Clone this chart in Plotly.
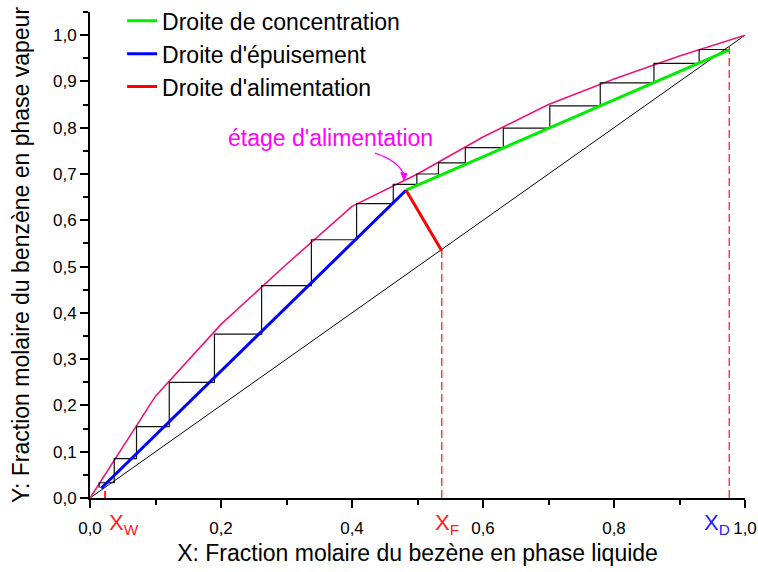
import plotly.graph_objects as go

# ---------------- data ----------------
# equilibrium curve (benzene-toluene)
eq_x = [0.0, 0.1, 0.2, 0.3, 0.4, 0.5, 0.6, 0.7, 0.8, 0.9, 1.0]
eq_y = [0.0, 0.22, 0.375, 0.505, 0.63, 0.70, 0.78, 0.85, 0.905, 0.955, 1.0]

# diagonal y = x
diag_x = [0.0, 1.0]
diag_y = [0.0, 1.0]

# characteristic compositions
XW = 0.023
XF = 0.537
XD = 0.976

# operating lines
conc_x = [0.4825, 0.976]          # rectifying line (green)
conc_y = [0.665, 0.968]
epuis_x = [0.017, 0.4825]         # stripping line (blue)
epuis_y = [0.021, 0.665]
alim_x = [0.4825, 0.537]          # feed line (red)
alim_y = [0.665, 0.534]

# McCabe-Thiele staircase corners
stair_x = [0.975, 0.930, 0.930, 0.861, 0.861, 0.779, 0.779, 0.702, 0.702, 0.631,
           0.631, 0.573, 0.573, 0.532, 0.532, 0.499, 0.499, 0.463, 0.463, 0.407,
           0.407, 0.338, 0.338, 0.262, 0.262, 0.190, 0.190, 0.121, 0.121, 0.071,
           0.071, 0.037, 0.037, 0.014, 0.014]
stair_y = [0.969, 0.969, 0.939, 0.939, 0.897, 0.897, 0.847, 0.847, 0.799, 0.799,
           0.757, 0.757, 0.724, 0.724, 0.700, 0.700, 0.6775, 0.6775, 0.636, 0.636,
           0.558, 0.558, 0.459, 0.459, 0.354, 0.354, 0.250, 0.250, 0.154, 0.154,
           0.085, 0.085, 0.033, 0.033, 0.022]

x_ticks = [0.0, 0.2, 0.4, 0.6, 0.8, 1.0]
y_ticks = [0.0, 0.1, 0.2, 0.3, 0.4, 0.5, 0.6, 0.7, 0.8, 0.9, 1.0]

# ---------------- figure ----------------
FONT = "Liberation Sans, Arial, sans-serif"
MAGENTA = "#FF00FF"
fig = go.Figure()

fig.add_trace(go.Scatter(x=diag_x, y=diag_y, mode="lines",
                         line=dict(color="black", width=1), showlegend=False, hoverinfo="skip"))
fig.add_trace(go.Scatter(x=eq_x, y=eq_y, mode="lines",
                         line=dict(color="#F01478", width=1.6), showlegend=False))
fig.add_trace(go.Scatter(x=stair_x, y=stair_y, mode="lines",
                         line=dict(color="#111111", width=1.2), showlegend=False))

# dashed verticals
for xv, top in [(XF, XF), (XD, XD)]:
    fig.add_trace(go.Scatter(x=[xv, xv], y=[0, top], mode="lines",
                             line=dict(color="#FF3030", width=1.4, dash="8px,4px"),
                             showlegend=False, hoverinfo="skip"))
fig.add_trace(go.Scatter(x=[XW, XW], y=[0, 0.015], mode="lines",
                         line=dict(color="#FF2020", width=2), showlegend=False, hoverinfo="skip"))

fig.add_trace(go.Scatter(x=conc_x, y=conc_y, mode="lines", name="Droite de concentration",
                         line=dict(color="#00EE00", width=3)))
fig.add_trace(go.Scatter(x=epuis_x, y=epuis_y, mode="lines", name="Droite d'épuisement",
                         line=dict(color="#0000FF", width=3)))
fig.add_trace(go.Scatter(x=alim_x, y=alim_y, mode="lines", name="Droite d'alimentation",
                         line=dict(color="#FF0000", width=3)))

# curved arrow towards the feed stage
fig.add_shape(type="path", xref="x", yref="y",
              path="M 0.435,0.745 Q 0.469,0.7295 0.4785,0.701",
              line=dict(color=MAGENTA, width=1.2))
fig.add_shape(type="path", xref="x", yref="y",
              path="M 0.4745,0.703 L 0.4842,0.7005 L 0.4794,0.6868 Z",
              line=dict(color=MAGENTA, width=1), fillcolor=MAGENTA)
fig.add_annotation(x=0.367, y=0.778, xref="x", yref="y", text="étage d'alimentation",
                   showarrow=False, font=dict(family=FONT, size=23, color=MAGENTA))

# composition labels below the axis
for xv, txt, col in [(0.026, "X<sub>W</sub>", "#FF2020"),
                     (0.524, "X<sub>F</sub>", "#FF2020"),
                     (0.935, "X<sub>D</sub>", "#2020FF")]:
    fig.add_annotation(x=xv, y=-0.054, xref="x", yref="paper", text=txt, showarrow=False,
                       xanchor="left", yanchor="middle",
                       font=dict(family=FONT, size=22, color=col))

axis_common = dict(showline=True, linecolor="black", linewidth=2, mirror=False,
                   ticks="outside", ticklen=8, tickwidth=2, tickcolor="black",
                   showgrid=False, zeroline=False, tickformat=".1f", automargin=False,
                   tickfont=dict(family=FONT, size=17, color="black"))

fig.update_layout(
    width=758, height=572, autosize=False,
    margin=dict(l=90, r=13, t=12, b=74, autoexpand=False),
    paper_bgcolor="white", plot_bgcolor="white",
    separators=",.",
    font=dict(family=FONT, color="black"),
    xaxis=dict(range=[0, 1.0], tickvals=x_ticks,
               minor=dict(dtick=0.1, tick0=0, ticks="outside", ticklen=5, tickwidth=2,
                          tickcolor="black", showgrid=False),
               title=dict(text="X: Fraction molaire du bezène en phase liquide",
                          font=dict(family=FONT, size=23), standoff=7),
               ticklabelstandoff=6,
               **axis_common),
    yaxis=dict(range=[0, 1.05], tickvals=y_ticks,
               minor=dict(dtick=0.05, tick0=0, ticks="outside", ticklen=5, tickwidth=2,
                          tickcolor="black", showgrid=False),
               title=dict(text="Y: Fraction molaire du benzène en phase vapeur",
                          font=dict(family=FONT, size=23), standoff=17),
               **axis_common),
    legend=dict(x=0.049, y=1.026, xanchor="left", yanchor="top",
                bgcolor="rgba(0,0,0,0)", borderwidth=0,
                font=dict(family=FONT, size=23, color="black"), tracegroupgap=0),
    showlegend=True,
)

fig.write_html("out.html", config={"displayModeBar": False},
               post_script="document.body.style.margin='0';document.body.style.padding='0';")
